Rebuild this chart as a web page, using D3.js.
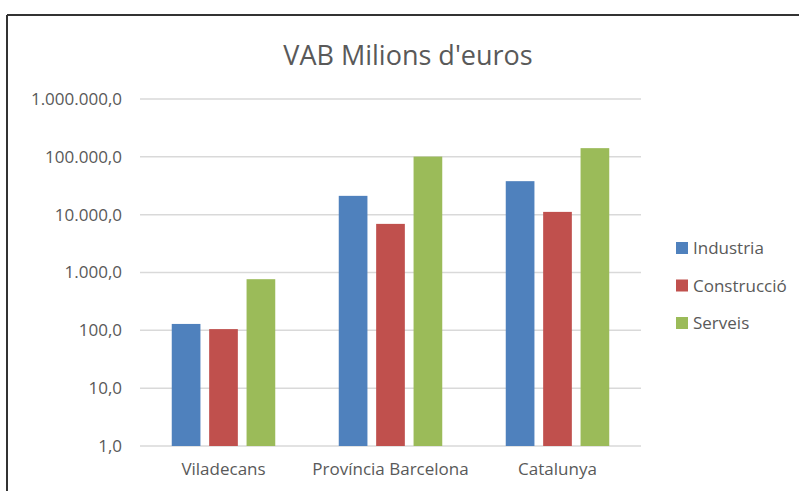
<!DOCTYPE html>
<html>
<head>
<meta charset="utf-8">
<script src="https://cdn.jsdelivr.net/npm/d3@7"></script>
<style>
  body { margin: 0; background: #fff; }
  text { font-family: "Open Sans", "Noto Sans", sans-serif; }
</style>
</head>
<body>
<script>
// data
var categories = ['Viladecans', 'Província Barcelona', 'Catalunya'];
var seriesNames = ['Industria', 'Construcció', 'Serveis'];
var industria = [129, 21150, 37950];
var construccio = [105, 6930, 11170];
var serveis = [766, 101000, 141300];
var tickValues = [1, 10, 100, 1000, 10000, 100000, 1000000];
var colors = ['#4F81BD', '#C0504D', '#9BBB59'];

var seriesValues = [industria, construccio, serveis];

var svg = d3.select('body').append('svg')
    .attr('width', 799)
    .attr('height', 491);

// chart frame (only top and left edges visible)
svg.append('line')
    .attr('x1', 7).attr('y1', 15).attr('x2', 799).attr('y2', 15)
    .attr('stroke', '#333').attr('stroke-width', 2);
svg.append('line')
    .attr('x1', 7).attr('y1', 15).attr('x2', 7).attr('y2', 491)
    .attr('stroke', '#333').attr('stroke-width', 2);

// plot area (note: "top" is taken by window.top)
var plotLeft = 140, plotRight = 641, plotTop = 99, plotBottom = 446;

var y = d3.scaleLog()
    .domain([1, 1000000])
    .range([plotBottom, plotTop]);

var x0 = d3.scaleBand()
    .domain(categories)
    .range([plotLeft, plotRight])
    .padding(0);

var groupW = 103.5;
var x1 = d3.scaleBand()
    .domain(seriesNames)
    .range([0, groupW])
    .paddingInner(0.233)
    .paddingOuter(0);

var loc = d3.formatLocale({decimal: ',', thousands: '.', grouping: [3], currency: ['', '€']});
var fmt = loc.format(',.1f');

// title
svg.append('text')
    .attr('x', 408)
    .attr('y', 65)
    .attr('text-anchor', 'middle')
    .attr('font-size', 27)
    .attr('fill', '#595959')
    .text("VAB Milions d'euros");

// gridlines
svg.append('g')
    .selectAll('line')
    .data(tickValues)
    .enter()
    .append('line')
    .attr('x1', plotLeft)
    .attr('x2', plotRight)
    .attr('y1', function(d){ return y(d); })
    .attr('y2', function(d){ return y(d); })
    .attr('stroke', '#D9D9D9')
    .attr('stroke-width', 1.5);

// y axis
var yAxis = svg.append('g')
    .attr('transform', 'translate(' + 122 + ',0)')
    .call(d3.axisLeft(y).tickValues(tickValues).tickFormat(fmt).tickSize(0).tickPadding(0));
yAxis.select('.domain').remove();
yAxis.selectAll('text')
    .attr('font-size', 17)
    .attr('fill', '#595959')
    .style('font-family', '"Open Sans", "Noto Sans", sans-serif');

// bars
var groups = svg.append('g')
    .selectAll('g')
    .data(categories)
    .enter()
    .append('g')
    .attr('transform', function(d){
        return 'translate(' + (x0(d) + (x0.bandwidth() - groupW) / 2) + ',0)';
    });

groups.selectAll('rect')
    .data(function(d, i){
        return seriesNames.map(function(s, j){ return {s: s, v: seriesValues[j][i], c: colors[j]}; });
    })
    .enter()
    .append('rect')
    .attr('x', function(d){ return x1(d.s); })
    .attr('width', x1.bandwidth())
    .attr('y', function(d){ return y(d.v); })
    .attr('height', function(d){ return plotBottom - y(d.v); })
    .attr('fill', function(d){ return d.c; });

// x axis labels
var xAxis = svg.append('g')
    .attr('transform', 'translate(0,' + plotBottom + ')')
    .call(d3.axisBottom(x0).tickSize(0).tickPadding(17));
xAxis.select('.domain').remove();
xAxis.selectAll('text')
    .attr('font-size', 17)
    .attr('fill', '#595959')
    .style('font-family', '"Open Sans", "Noto Sans", sans-serif');

// legend
var legend = svg.append('g')
    .selectAll('g')
    .data(seriesNames)
    .enter()
    .append('g')
    .attr('transform', function(d, i){ return 'translate(676,' + (248 + i * 37.5) + ')'; });

legend.append('rect')
    .attr('x', 0)
    .attr('y', -6)
    .attr('width', 12)
    .attr('height', 12)
    .attr('fill', function(d, i){ return colors[i]; });

legend.append('text')
    .attr('x', 17)
    .attr('y', 6)
    .attr('font-size', 17)
    .attr('fill', '#595959')
    .text(function(d){ return d; });
</script>
</body>
</html>
